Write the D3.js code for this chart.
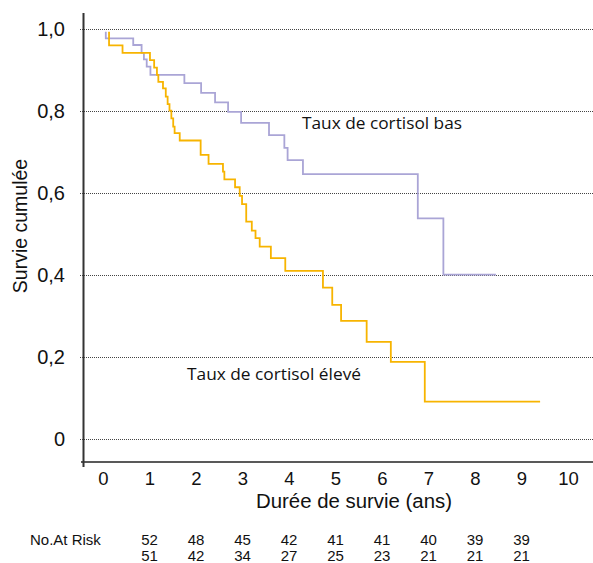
<!DOCTYPE html>
<html>
<head>
<meta charset="utf-8">
<script src="https://cdn.jsdelivr.net/npm/d3@7"></script>
<style>
  html, body { margin: 0; padding: 0; background: #fff; }
  svg { display: block; }
</style>
</head>
<body>
<svg id="chart" width="593" height="563"></svg>
<script>
// ---- data ----
const xTicks = [0, 1, 2, 3, 4, 5, 6, 7, 8, 9, 10];
const yTicks = [0, 0.2, 0.4, 0.6, 0.8, 1.0];
const yTickLabels = ["0", "0,2", "0,4", "0,6", "0,8", "1,0"];

// Taux de cortisol bas (step points: time, survival after step)
const timesBas = [0.06, 0.06, 0.65, 0.83, 0.88, 0.94, 1.02, 1.75, 2.11, 2.41, 2.69, 2.97, 3.57, 3.90, 3.97, 4.30, 6.77, 7.32, 8.45];
const survBas  = [0.993, 0.977, 0.961, 0.942, 0.926, 0.908, 0.888, 0.868, 0.844, 0.821, 0.798, 0.771, 0.741, 0.710, 0.680, 0.646, 0.538, 0.401, 0.401];

// Taux de cortisol élevé
const timesEleve = [0.13, 0.13, 0.42, 1.01, 1.10, 1.16, 1.19, 1.29, 1.35, 1.39, 1.43, 1.47, 1.51, 1.54, 1.65, 2.10, 2.27, 2.58, 2.61, 2.84, 2.94, 2.99, 3.08, 3.20, 3.28, 3.37, 3.61, 3.92, 4.73, 4.93, 5.12, 5.67, 6.19, 6.92, 9.40];
const survEleve  = [0.993, 0.960, 0.942, 0.924, 0.906, 0.888, 0.871, 0.855, 0.835, 0.817, 0.801, 0.782, 0.762, 0.746, 0.728, 0.693, 0.671, 0.652, 0.633, 0.614, 0.593, 0.573, 0.530, 0.508, 0.490, 0.469, 0.441, 0.410, 0.369, 0.327, 0.288, 0.237, 0.188, 0.091, 0.091];

const riskTimes = [1, 2, 3, 4, 5, 6, 7, 8, 9];
const riskBas   = [52, 48, 45, 42, 41, 41, 40, 39, 39];
const riskEleve = [51, 42, 34, 27, 25, 23, 21, 21, 21];

const labelBas = "Taux de cortisol bas";
const labelEleve = "Taux de cortisol élevé";
const xTitle = "Durée de survie (ans)";
const yTitle = "Survie cumulée";
const riskTitle = "No.At Risk";

// ---- layout ----
const svg = d3.select("#chart");
const W = 593;
const x = d3.scaleLinear().domain([0, 10]).range([103, 568]);
const y = d3.scaleLinear().domain([0, 1]).range([439, 29]);
const axisX = 83.5, axisBottomY = 462;
const arial = "'Liberation Sans', Arial, sans-serif";
const rounded = "'Open Sans', 'Noto Sans', sans-serif";
const colBas = "#aaa5d6", colEleve = "#f7b400";

// gridlines + y tick labels
const yAxis = d3.axisLeft(y)
  .tickValues(yTicks)
  .tickSize(-(W - 80))
  .tickPadding(15)
  .tickFormat((d, i) => yTickLabels[i]);
const gy = svg.append("g").attr("transform", `translate(80,0)`).call(yAxis);
gy.select(".domain").remove();
gy.selectAll(".tick line")
  .attr("stroke", "#444").attr("stroke-width", 1).attr("stroke-dasharray", "1,1")
  .attr("shape-rendering", "crispEdges");
gy.selectAll(".tick text")
  .attr("font-family", arial).attr("font-size", 20).attr("fill", "#111");

// x tick labels
const xAxis = d3.axisBottom(x).tickValues(xTicks).tickSize(0).tickPadding(9.5).tickFormat(d3.format("d"));
const gx = svg.append("g").attr("transform", `translate(0,${axisBottomY})`).call(xAxis);
gx.select(".domain").remove();
gx.selectAll(".tick text").attr("font-family", arial).attr("font-size", 18.5).attr("fill", "#111");

// axis frame lines
svg.append("line").attr("x1", 81).attr("x2", W).attr("y1", axisBottomY).attr("y2", axisBottomY)
  .attr("stroke", "#222").attr("stroke-width", 1.5);
svg.append("line").attr("x1", axisX).attr("x2", axisX).attr("y1", 13).attr("y2", 467)
  .attr("stroke", "#333").attr("stroke-width", 2);

// survival curves
const line = d3.line().x(d => x(d[0])).y(d => y(d[1])).curve(d3.curveStepAfter);
const ptsBas = timesBas.map((t, i) => [t, survBas[i]]);
const ptsEleve = timesEleve.map((t, i) => [t, survEleve[i]]);
svg.append("path").datum(ptsBas).attr("d", line)
  .attr("fill", "none").attr("stroke", colBas).attr("stroke-width", 1.8);
svg.append("path").datum(ptsEleve).attr("d", line)
  .attr("fill", "none").attr("stroke", colEleve).attr("stroke-width", 1.8);

// annotations
svg.append("text").attr("x", 302).attr("y", 129).text(labelBas)
  .attr("font-family", rounded).attr("font-size", 17).attr("fill", "#111")
  .attr("textLength", 160).attr("lengthAdjust", "spacingAndGlyphs");
svg.append("text").attr("x", 187).attr("y", 380).text(labelEleve)
  .attr("font-family", rounded).attr("font-size", 17).attr("fill", "#111")
  .attr("textLength", 174).attr("lengthAdjust", "spacingAndGlyphs");

// axis titles
svg.append("text").attr("x", 354).attr("y", 507.5).attr("text-anchor", "middle").text(xTitle)
  .attr("font-family", arial).attr("font-size", 19.5).attr("fill", "#111")
  .attr("textLength", 196).attr("lengthAdjust", "spacingAndGlyphs");
svg.append("text").attr("transform", "translate(27,226) rotate(-90)").attr("text-anchor", "middle")
  .text(yTitle).attr("font-family", arial).attr("font-size", 19.5).attr("fill", "#111");

// risk table
svg.append("text").attr("x", 30).attr("y", 545).text(riskTitle)
  .attr("font-family", arial).attr("font-size", 15).attr("fill", "#111");
const rows = [riskBas, riskEleve];
rows.forEach((row, r) => {
  svg.append("g").selectAll("text").data(row).join("text")
    .attr("x", (d, i) => x(riskTimes[i]))
    .attr("y", 545 + r * 15.5)
    .attr("text-anchor", "middle")
    .attr("font-family", arial).attr("font-size", 15).attr("fill", "#111")
    .text(d => d);
});
</script>
</body>
</html>
